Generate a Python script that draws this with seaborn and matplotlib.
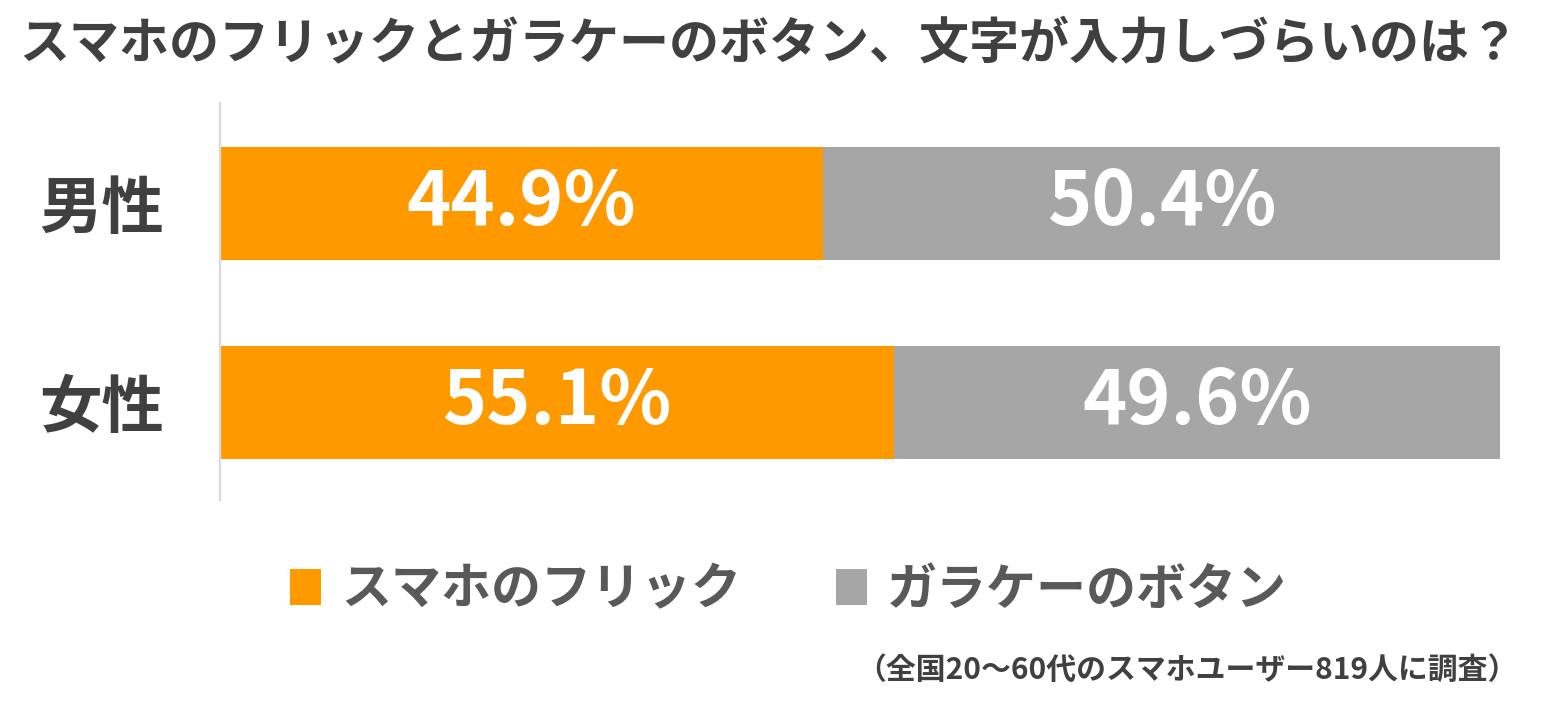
import matplotlib
matplotlib.use("Agg")
import matplotlib.pyplot as plt
import seaborn as sns
import pandas as pd
from matplotlib.patches import Patch

categories = ["男性", "女性"]
smartphone = [44.9, 55.1]
garake = [50.4, 49.6]
series_names = ["スマホのフリック", "ガラケーのボタン"]
title = "スマホのフリックとガラケーのボタン、文字が入力しづらいのは？"
footnote = "（全国20～60代のスマホユーザー819人に調査）"

ORANGE = "#FF9900"
GRAY = "#A6A6A6"
DARK = "#404040"

sns.set_theme(style="white")
plt.rcParams["font.family"] = ["Noto Sans CJK JP", "DejaVu Sans"]

totals = [a + b for a, b in zip(smartphone, garake)]
share_s = [a / t * 100 for a, t in zip(smartphone, totals)]
df = pd.DataFrame({"cat": categories, "share": share_s, "full": [100.0] * len(categories)})

fig = plt.figure(figsize=(15.61, 7.09), dpi=100)
ax = fig.add_axes([220 / 1561, 1 - 500 / 709, 1280 / 1561, 397 / 709])

sns.barplot(data=df, y="cat", x="full", color=GRAY, saturation=1, width=0.568,
            orient="h", ax=ax, linewidth=0)
sns.barplot(data=df, y="cat", x="share", color=ORANGE, saturation=1, width=0.568,
            orient="h", ax=ax, linewidth=0)

ax.set_xlim(0, 100)
ax.set_ylim(1.49, -0.505)
ax.set_xlabel("")
ax.set_ylabel("")
ax.set_xticks([])

orange_container = ax.containers[1]
ax.bar_label(orange_container, labels=[f"{v:.1f}%" for v in smartphone], label_type="center",
             color="white", fontsize=54, fontweight="bold")
for i, (s, g) in enumerate(zip(share_s, garake)):
    ax.text((s + 100) / 2, i, f"{g:.1f}%", ha="center", va="center",
            color="white", fontsize=54, fontweight="bold")

ax.tick_params(axis="y", length=0, pad=40)
for lab in ax.get_yticklabels():
    lab.set_fontsize(45)
    lab.set_fontweight("bold")
    lab.set_color(DARK)

for side in ["top", "right", "bottom"]:
    ax.spines[side].set_visible(False)
ax.spines["left"].set_color("#D9D9D9")
ax.spines["left"].set_linewidth(1.6)

fig.text(0.493, 1 - 45 / 709, title, ha="center", va="center", fontsize=36,
         fontweight="bold", color=DARK)

handles = [Patch(facecolor=ORANGE, edgecolor="none"), Patch(facecolor=GRAY, edgecolor="none")]
leg = fig.legend(handles, series_names, loc="center", bbox_to_anchor=(0.505, 1 - 590 / 709),
                 ncol=2, frameon=False, fontsize=36, handlelength=0.62, handleheight=0.75,
                 handletextpad=0.4, columnspacing=1.9)
for t in leg.get_texts():
    t.set_color("#595959")
    t.set_fontweight("bold")

fig.text(1518 / 1561, 1 - 670 / 709, footnote, ha="right", va="center", fontsize=21.5,
         fontweight="bold", color=DARK)

fig.savefig("out.png", dpi=100, facecolor="white")
